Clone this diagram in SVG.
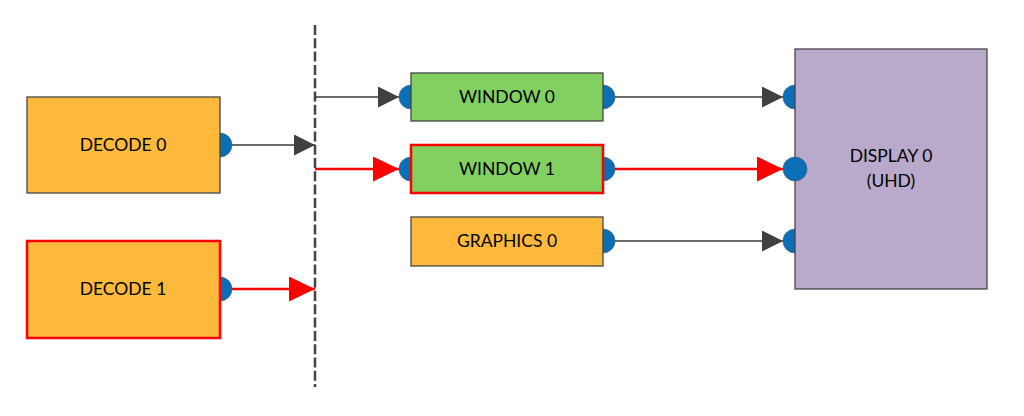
<svg xmlns="http://www.w3.org/2000/svg" width="1024" height="416" viewBox="0 0 1024 416">
<defs>
<style>
.box{stroke:#454545;stroke-width:1.3}
.sel{stroke:#FF0000;stroke-width:2.5}
.orange{fill:#FDB93B}
.green{fill:#83D062}
.purple{fill:#B9AACB}
.port{fill:#0A6FB6;stroke:#4a5a6a;stroke-width:0.6}
.lbl{font-family:Lato,"Liberation Sans",sans-serif;font-size:17.5px;fill:#000;text-anchor:middle}
.g{stroke:#3a3a3a;stroke-width:1.3;fill:none}
.r{stroke:#FF0000;stroke-width:2.5;fill:none}
</style>
<marker id="ag" markerUnits="userSpaceOnUse" markerWidth="22" markerHeight="22" refX="21" refY="10.5" orient="auto" viewBox="0 0 22 22">
<path d="M0,0 L21,10.5 L0,21 Z" fill="#404040"/>
</marker>
<marker id="ar" markerUnits="userSpaceOnUse" markerWidth="27" markerHeight="27" refX="26" refY="12.5" orient="auto" viewBox="0 0 27 27">
<path d="M0,0 L26,12.5 L0,25 Z" fill="#FF0000"/>
</marker>
</defs>
<rect width="1024" height="416" fill="#fff"/>

<g id="divider">
<line x1="315" y1="25" x2="315" y2="387" stroke="#444" stroke-width="2.5" stroke-dasharray="10,3.3"/>
</g>

<g id="connectors">
<line class="g" x1="231" y1="145" x2="315" y2="145" marker-end="url(#ag)"/>
<line class="r" x1="231" y1="289" x2="315" y2="289" marker-end="url(#ar)"/>
<line class="g" x1="315" y1="97" x2="399" y2="97" marker-end="url(#ag)"/>
<line class="r" x1="315" y1="169" x2="399" y2="169" marker-end="url(#ar)"/>
<line class="g" x1="615" y1="97" x2="783" y2="97" marker-end="url(#ag)"/>
<line class="r" x1="615" y1="169" x2="783" y2="169" marker-end="url(#ar)"/>
<line class="g" x1="615" y1="241" x2="783" y2="241" marker-end="url(#ag)"/>
</g>

<g id="decode0">
<circle class="port" cx="220" cy="145" r="12"/>
<rect class="box orange" x="27" y="97" width="193" height="96"/>
<text class="lbl" x="123" y="151">DECODE 0</text>
</g>

<g id="decode1">
<circle class="port" cx="220" cy="289" r="12"/>
<rect class="sel orange" x="27" y="241" width="193" height="97"/>
<text class="lbl" x="123" y="295">DECODE 1</text>
</g>

<g id="window0">
<circle class="port" cx="411" cy="97" r="12"/>
<circle class="port" cx="603" cy="97" r="12"/>
<rect class="box green" x="411" y="73" width="192" height="48"/>
<text class="lbl" x="507" y="103">WINDOW 0</text>
</g>

<g id="window1">
<circle class="port" cx="411" cy="169" r="12"/>
<circle class="port" cx="603" cy="169" r="12"/>
<rect class="sel green" x="411" y="145" width="192" height="48"/>
<text class="lbl" x="507" y="175">WINDOW 1</text>
</g>

<g id="graphics0">
<circle class="port" cx="603" cy="241" r="12"/>
<rect class="box orange" x="411" y="217" width="192" height="49"/>
<text class="lbl" x="507" y="247">GRAPHICS 0</text>
</g>

<g id="display0">
<circle class="port" cx="795" cy="97" r="12"/>
<circle class="port" cx="795" cy="241" r="12"/>
<rect class="box purple" x="795" y="49" width="192" height="240"/>
<circle class="port" cx="795" cy="169" r="12"/>
<text class="lbl" x="891" y="162">DISPLAY 0</text>
<text class="lbl" x="891" y="187">(UHD)</text>
</g>
</svg>
